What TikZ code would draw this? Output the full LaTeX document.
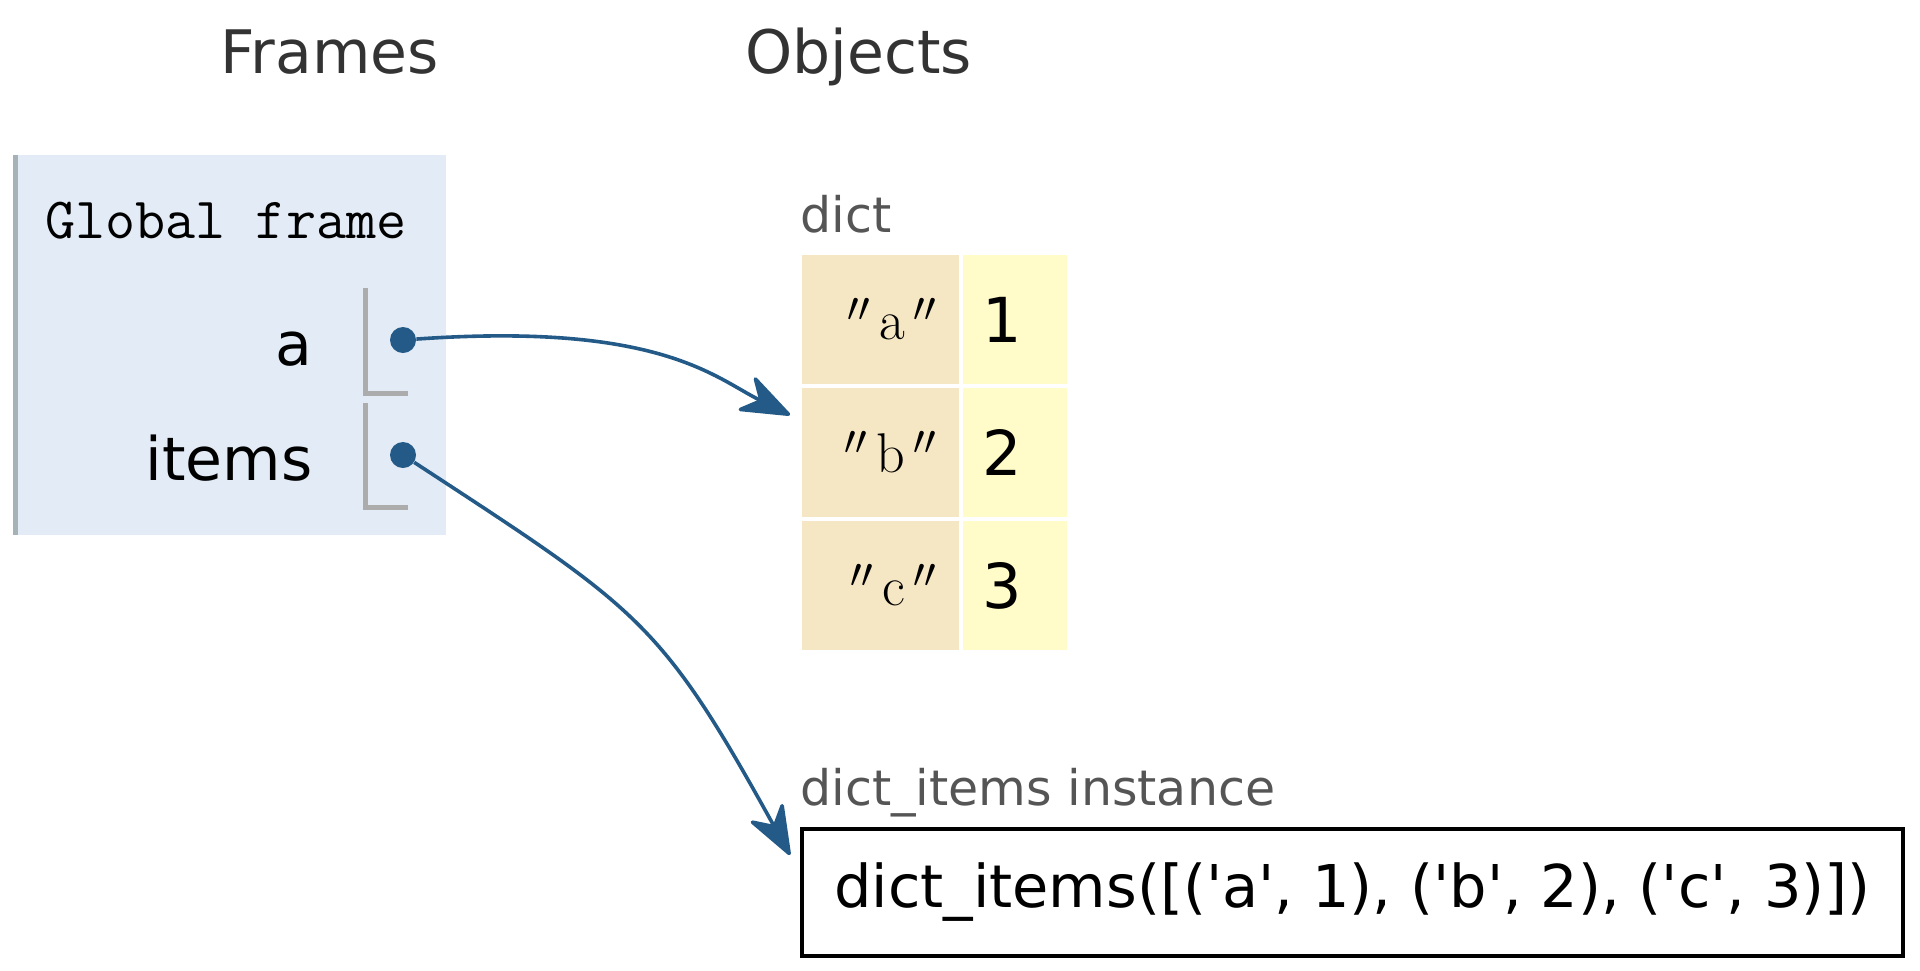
\documentclass[tikz,border=0pt]{standalone}
\usepackage{fontspec}
\usepackage{tikz}
\usetikzlibrary{arrows.meta}
\newfontfamily\dejavu{DejaVu Sans}[Ligatures=TeXOff]
\definecolor{framebg}{HTML}{E2EBF6}
\definecolor{framebar}{HTML}{A6B3B6}
\definecolor{keycol}{HTML}{F5E6C4}
\definecolor{valcol}{HTML}{FFFCCA}
\definecolor{ptrcol}{HTML}{235A87}
\definecolor{typecol}{HTML}{555555}
\definecolor{headcol}{HTML}{333333}
\tikzset{
  heading/.style={anchor=base west, inner sep=0, text=headcol, font=\dejavu\fontsize{30}{36}\selectfont},
  typelabel/.style={anchor=base west, inner sep=0, text=typecol, font=\dejavu\fontsize{24.5}{30}\selectfont},
  varname/.style={anchor=base east, inner sep=0, font=\dejavu\fontsize{30}{36}\selectfont},
  slot/.style={draw=gray!65, line width=2.5pt},
  ptrdot/.style={circle, fill=ptrcol, minimum size=13pt, inner sep=0},
  pointer/.style={draw=ptrcol, line width=1.8pt, -{Stealth[length=28pt, width=21pt, inset=9pt, round]}},
  keycell/.style={fill=keycol, minimum width=78.5pt, minimum height=64.5pt, inner xsep=11pt, text width=56.5pt, align=right, font=\fontsize{28}{32}\selectfont},
  valcell/.style={fill=valcol, minimum width=52pt, minimum height=64.5pt, inner xsep=9.5pt, text width=33pt, align=left, font=\dejavu\fontsize{31}{36}\selectfont}
}
\begin{document}
\begin{tikzpicture}[x=0.5pt, y=-0.5pt]
            \useasboundingbox (0,0) rectangle (1920,970);
            \node[heading] (hframes) at (220,73) {Frames};
            \node[heading] (hobjects) at (745,73) {Objects};
            \fill[framebg] (13,155) rectangle (446,535);
            \draw[framebar, line width=2.5pt] (15.5,155) -- (15.5,535);
            \node at (45,238) [anchor=base west, inner sep=0, font=\ttfamily\fontsize{29.2}{34}\selectfont] (gframe) {Global frame};
            \node[varname] (na) at (313,365) {a};
            \node[varname] (nitems) at (313,480) {items};
            \draw[slot] (365,288) |- (408,393);
            \draw[slot] (365,403) |- (408,507);
            \node[ptrdot] (pa) at (403,340) {};
            \node[ptrdot] (pitems) at (403,455) {};
            \node[typelabel] (tdict) at (800,232) {dict};
            \foreach \k/\v [count=\i] in {a/1,b/2,c/3} {
                \node[keycell] (k\i) at (880.5,186.5+133*\i) {${}^{\prime\prime}\,$\k$\,{}^{\prime\prime}$};
                \node[valcell] (v\i) at (1015,186.5+133*\i) {\v};
            }
            \node[typelabel] (titems) at (800,805) {dict\_items instance};
            \node[draw, line width=2pt, minimum width=550.5pt, minimum height=63.5pt, inner sep=0, font=\dejavu\fontsize{29.5}{34}\selectfont] (ibox) at (1352.5,892.5) {dict\_items([('a', 1), ('b', 2), ('c', 3)])};
            \coordinate (aend) at (790,415);
            \coordinate (iend) at (790,855);
            \draw[pointer] (pa) .. controls (660,322) and (715,378) .. (aend);
            \draw[pointer] (pitems) .. controls (640,610) and (660,620) .. (iend);
        \end{tikzpicture}
\end{document}
